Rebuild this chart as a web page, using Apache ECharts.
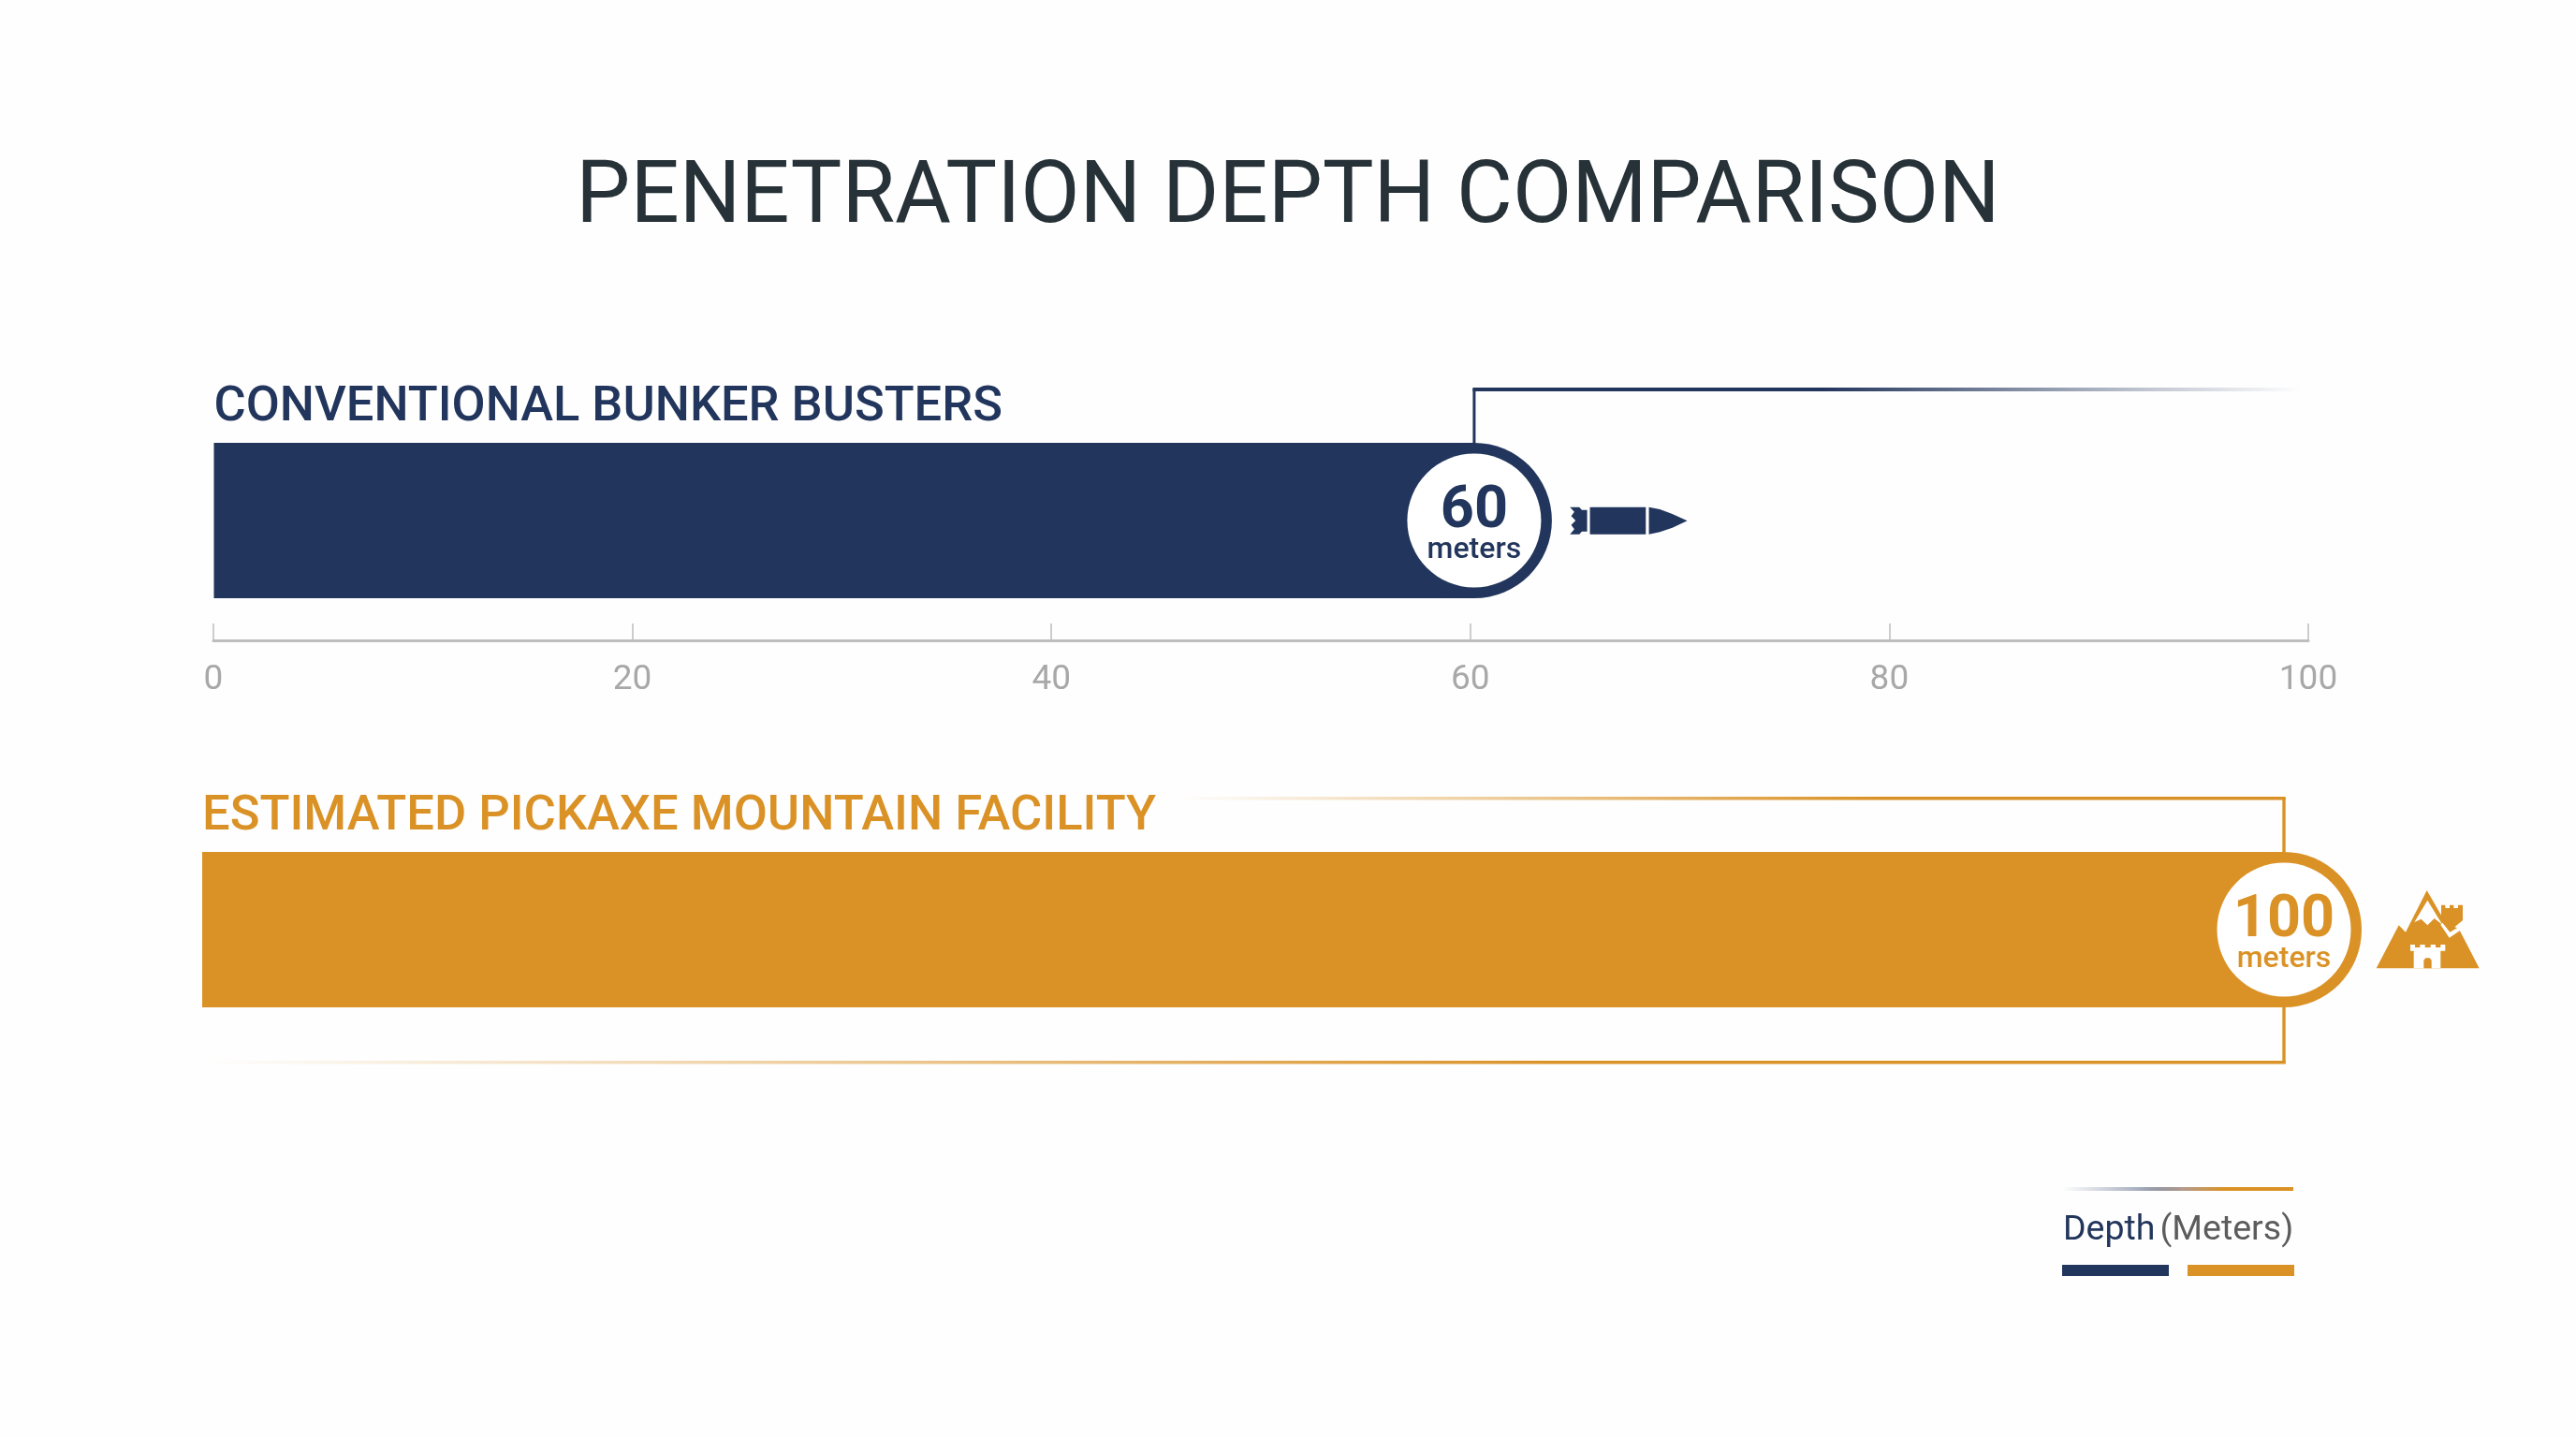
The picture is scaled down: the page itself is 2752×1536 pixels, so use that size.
<!DOCTYPE html>
<html><head><meta charset="utf-8">
<style>html,body{margin:0;padding:0;background:#fefefe}#c{width:2752px;height:1536px}</style>
<script src="https://cdn.jsdelivr.net/npm/echarts@6/dist/echarts.min.js"></script>
</head><body><div id="c"></div>
<script>
const chartTitle = 'PENETRATION DEPTH COMPARISON';
const categories = ['CONVENTIONAL BUNKER BUSTERS', 'ESTIMATED PICKAXE MOUNTAIN FACILITY'];
const depthMeters = [60, 100];
const unitLabel = 'meters';
const axisMin = 0, axisMax = 100, axisStep = 20;

const NAVY = '#22355c', ORANGE = '#da9226', FONT = 'Roboto';
const rgba = (hex, a) => {
  const n = parseInt(hex.slice(1), 16);
  return `rgba(${n >> 16},${(n >> 8) & 255},${n & 255},${a})`;
};
const fade = (c, x0, x1, stops) => new echarts.graphic.LinearGradient(x0, 0, x1, 0,
  stops.map(([o, a]) => ({ offset: o, color: rgba(c, a) })));

function badge(cx, cy, value, color) {
  return [
    { type: 'circle', shape: { cx, cy, r: 83 }, style: { fill: color } },
    { type: 'circle', shape: { cx, cy, r: 71.5 }, style: { fill: '#fff' } },
    { type: 'text', style: { text: String(value), x: cx, y: cy - 9, fill: color, font: '700 63px ' + FONT, align: 'center', verticalAlign: 'middle' } },
    { type: 'text', style: { text: unitLabel, x: cx, y: cy + 32, fill: color, font: '500 32px ' + FONT, align: 'center', verticalAlign: 'middle' } }
  ];
}
const scalePts = (pts, ox, oy) => pts.map(([x, y]) => [ox + x / 3, oy + y / 3]);
const poly = (pts, ox, oy, fill) => ({ type: 'polygon', shape: { points: scalePts(pts, ox, oy) }, style: { fill } });

function bulletIcon(cx, cy) {
  const ox = cx + 95, oy = cy - 26;
  return [
    poly([[22,35],[52,35],[60,44],[77,44],[77,113],[60,113],[52,122],[22,122],[36,106],[26,92],[40,78],[26,64],[36,50]], ox, oy, NAVY),
    poly([[86,35],[265,35],[265,122],[86,122]], ox, oy, NAVY),
    poly([[275,35],[310,42],[350,57],[398,79],[350,101],[310,115],[275,122]], ox, oy, NAVY)
  ];
}
function mountainIcon(cx, cy) {
  const ox = cx + 90, oy = cy - 48, W = '#fff';
  return [
    poly([[26,268],[98,130],[120,152],[188,18],[250,125],[290,140],[356,268]], ox, oy, ORANGE),
    poly([[190,50],[148,120],[170,110],[190,130],[212,108],[238,128]], ox, oy, W),
    poly([[238,122],[262,152],[296,132],[302,142],[260,170],[232,128]], ox, oy, W),
    poly([[234,65],[247,65],[247,75],[261,75],[261,65],[274,65],[274,75],[288,75],[288,65],[303,65],[303,114],[264,146],[234,104]], ox, oy, ORANGE),
    poly([[135,192],[150,192],[150,201],[166,201],[166,192],[182,192],[182,201],[200,201],[200,192],[216,192],[216,201],[232,201],[232,192],[247,192],[247,212],[232,212],[232,268],[146,268],[146,212],[135,212]], ox, oy, W),
    poly([[178,268],[178,242],[184,235],[197,235],[203,242],[203,268]], ox, oy, ORANGE)
  ];
}
function renderNavy(params, api) {
  const [cx, cy] = api.coord([api.value(0), api.value(1)]);
  return { type: 'group', children: [
    { type: 'rect', shape: { x: cx - 1.5, y: cy - 141, width: 3, height: 60 }, style: { fill: NAVY } },
    { type: 'rect', shape: { x: cx - 1.5, y: cy - 142, width: 885, height: 4 }, style: { fill: fade(NAVY, 0, 1, [[0, 1], [0.42, 1], [0.8, 0.3], [1, 0]]) } },
    ...badge(cx, cy, api.value(0), NAVY), ...bulletIcon(cx, cy)
  ] };
}
function renderOrange(params, api) {
  const [cx, cy] = api.coord([api.value(0), api.value(1)]);
  return { type: 'group', children: [
    { type: 'rect', shape: { x: cx - 1.7, y: cy - 141, width: 3.4, height: 60 }, style: { fill: ORANGE } },
    { type: 'rect', shape: { x: cx - 1.7, y: cy + 81, width: 3.4, height: 62 }, style: { fill: ORANGE } },
    { type: 'rect', shape: { x: cx - 1180, y: cy - 142, width: 1181.7, height: 3.6 }, style: { fill: fade(ORANGE, 0, 1, [[0, 0], [0.63, 1], [1, 1]]) } },
    { type: 'rect', shape: { x: cx - 2220, y: cy + 140, width: 2221.7, height: 3.6 }, style: { fill: fade(ORANGE, 0, 1, [[0, 0], [0.65, 1], [1, 1]]) } },
    ...badge(cx, cy, api.value(0), ORANGE), ...mountainIcon(cx, cy)
  ] };
}
const hiddenX = i => ({ gridIndex: i, type: 'value', min: axisMin, max: axisMax, show: false });
const hiddenY = (i, c) => ({ gridIndex: i, type: 'category', data: c ? [c] : ['axis'], show: false });
const barSeries = (i, color) => ({
  name: categories[i === 0 ? 0 : 1], type: 'bar', xAxisIndex: i, yAxisIndex: i,
  data: [depthMeters[i === 0 ? 0 : 1]], barWidth: '100%', itemStyle: { color }, silent: true
});
const chart = echarts.init(document.getElementById('c'));
chart.setOption({
  animation: false,
  backgroundColor: '#fefefe',
  title: [
    { text: chartTitle, left: 'center', top: 160, textStyle: { color: '#263238', fontFamily: FONT, fontWeight: 400, fontSize: 92, lineHeight: 98 } },
    { text: categories[0], left: 228.5, top: 409, padding: 0, textStyle: { color: NAVY, fontFamily: FONT, fontWeight: 500, fontSize: 52.4, lineHeight: 54 } },
    { text: categories[1], left: 216, top: 846, padding: 0, textStyle: { color: ORANGE, fontFamily: FONT, fontWeight: 500, fontSize: 52.5, lineHeight: 54 } },
    { text: '{a|Depth} {b|(Meters)}', left: 2204, top: 1293, padding: 0, textStyle: { fontWeight: 400, rich: {
        a: { color: NAVY, fontFamily: FONT, fontWeight: 400, fontSize: 37.5, lineHeight: 44 },
        b: { color: '#5c5c5c', fontFamily: FONT, fontWeight: 400, fontSize: 37.5, lineHeight: 44 } } } }
  ],
  grid: [
    { left: 228.5, top: 473, width: 2244, height: 166 },
    { left: 228, top: 600, width: 2238, height: 84 },
    { left: 216, top: 910, width: 2224, height: 166 }
  ],
  xAxis: [
    hiddenX(0),
    { gridIndex: 1, type: 'value', min: axisMin, max: axisMax, interval: axisStep,
      axisLine: { show: true, lineStyle: { color: '#bdbdbd', width: 3 } },
      axisTick: { show: true, inside: true, length: 18, lineStyle: { color: '#bdbdbd', width: 1.5 } },
      axisLabel: { color: '#a8a8a8', fontFamily: FONT, fontSize: 37, margin: 24, showMinLabel: true, showMaxLabel: true, hideOverlap: false },
      splitLine: { show: false } },
    hiddenX(2)
  ],
  yAxis: [hiddenY(0, categories[0]), hiddenY(1), hiddenY(2, categories[1])],
  series: [
    barSeries(0, NAVY),
    barSeries(2, ORANGE),
    { type: 'custom', xAxisIndex: 0, yAxisIndex: 0, data: [[depthMeters[0], 0]], renderItem: renderNavy, silent: true, clip: false, z: 5 },
    { type: 'custom', xAxisIndex: 2, yAxisIndex: 2, data: [[depthMeters[1], 0]], renderItem: renderOrange, silent: true, clip: false, z: 5 }
  ],
  graphic: [
    { type: 'rect', shape: { x: 2203, y: 1268, width: 247, height: 4 }, style: { fill: new echarts.graphic.LinearGradient(0, 0, 1, 0, [
      { offset: 0, color: rgba(NAVY, 0) }, { offset: 0.32, color: rgba(NAVY, 0.38) }, { offset: 0.52, color: 'rgba(175,150,135,0.95)' }, { offset: 0.7, color: ORANGE }, { offset: 1, color: ORANGE }]) } },
    { type: 'rect', shape: { x: 2203, y: 1351, width: 114, height: 12 }, style: { fill: NAVY } },
    { type: 'rect', shape: { x: 2337, y: 1351, width: 114, height: 12 }, style: { fill: ORANGE } }
  ]
});
</script></body></html>
